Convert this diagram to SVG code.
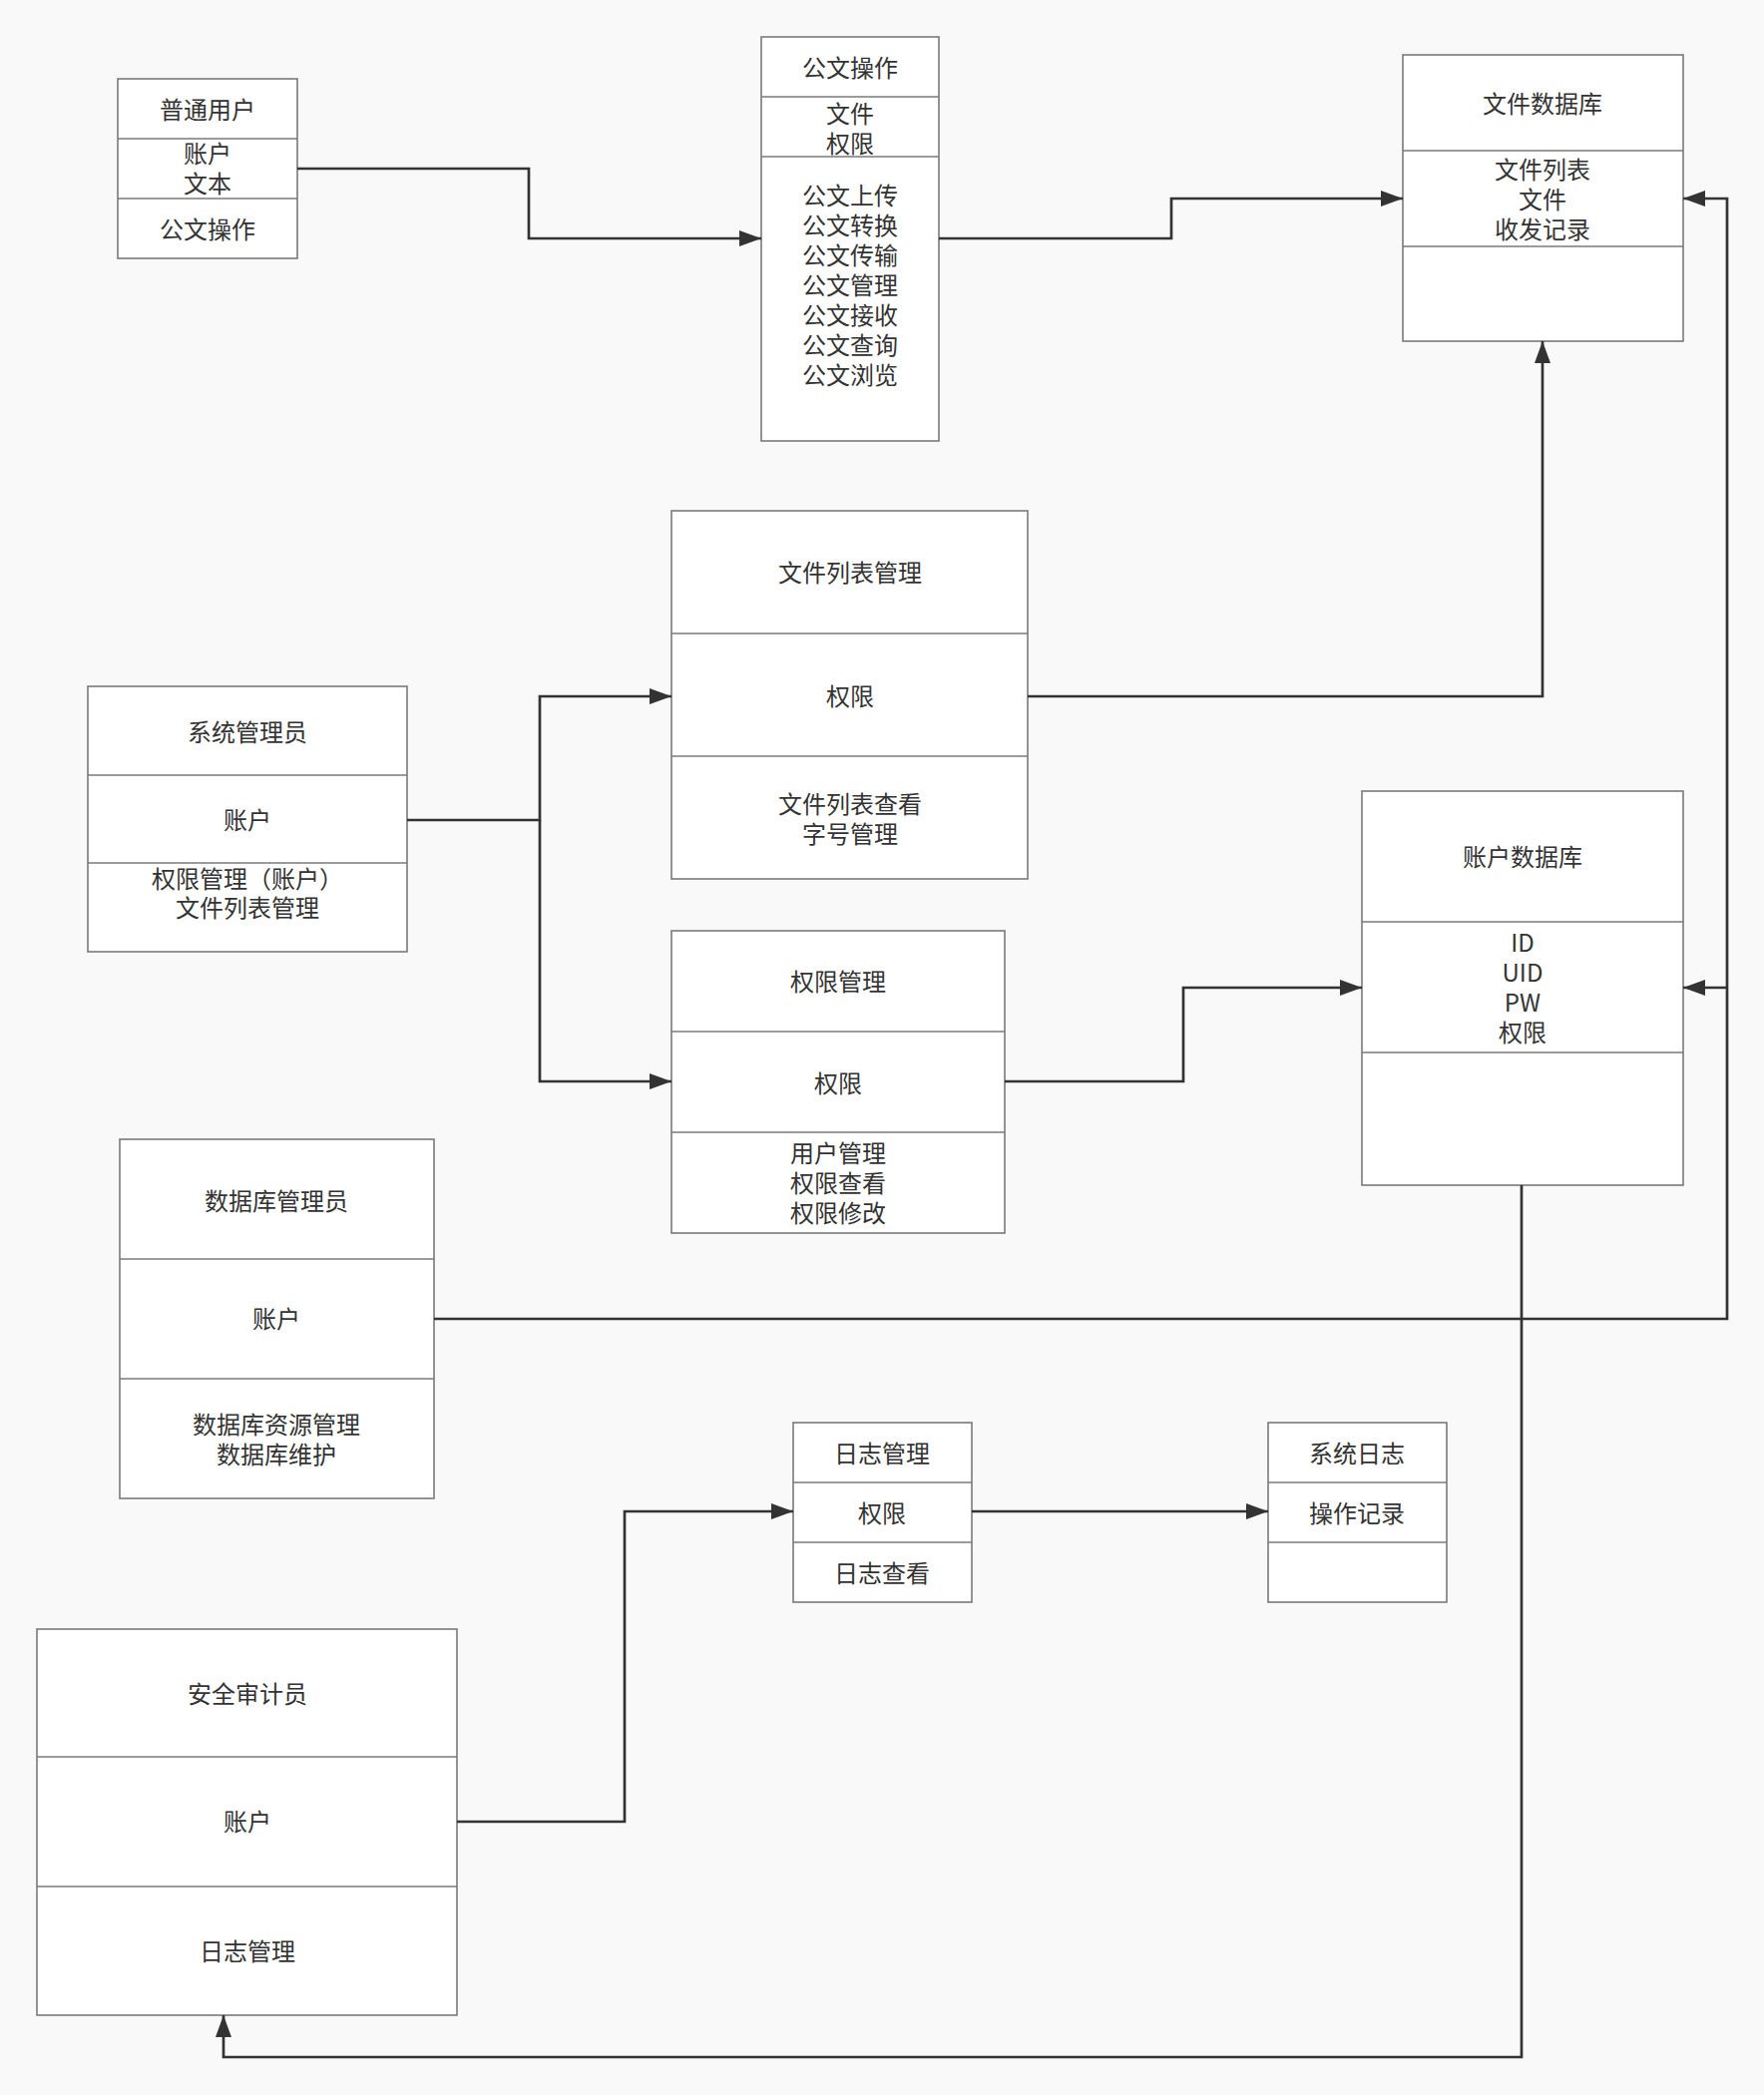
<svg xmlns="http://www.w3.org/2000/svg" width="1768" height="2100" viewBox="0 0 1768 2100">
<style>
.box{fill:#ffffff;stroke:#7a7a7a;stroke-width:1.6}
.div{stroke:#7a7a7a;stroke-width:1.6;fill:none}
text{font-family:"Noto Sans CJK SC","Noto Sans",sans-serif;font-size:24px;fill:#333333;text-anchor:middle;dominant-baseline:central}
.con{fill:none;stroke:#333333;stroke-width:2.7;marker-end:url(#arr)}
</style>
<defs>
<marker id="arr" markerUnits="userSpaceOnUse" markerWidth="22" markerHeight="16" viewBox="0 0 22 16" refX="22" refY="8" orient="auto">
<path d="M0,0 L22,8 L0,16 z" fill="#333333"/>
</marker>
</defs>
<rect x="0" y="0" width="1768" height="2100" fill="#f9f9f9"/>

<g id="putong">
<rect class="box" x="118" y="79" width="180" height="180"/>
<line class="div" x1="118" y1="139" x2="298" y2="139"/>
<line class="div" x1="118" y1="199" x2="298" y2="199"/>
<text x="208" y="108">普通用户</text>
<text x="208" y="152">账户</text>
<text x="208" y="182">文本</text>
<text x="208" y="228">公文操作</text>
</g>

<g id="gongwen">
<rect class="box" x="763" y="37" width="178" height="405"/>
<line class="div" x1="763" y1="97" x2="941" y2="97"/>
<line class="div" x1="763" y1="157" x2="941" y2="157"/>
<text x="852" y="66">公文操作</text>
<text x="852" y="112">文件</text>
<text x="852" y="142">权限</text>
<text x="852" y="194">公文上传</text>
<text x="852" y="224">公文转换</text>
<text x="852" y="254">公文传输</text>
<text x="852" y="284">公文管理</text>
<text x="852" y="314">公文接收</text>
<text x="852" y="344">公文查询</text>
<text x="852" y="374">公文浏览</text>
</g>

<g id="filedb">
<rect class="box" x="1406" y="55" width="281" height="287"/>
<line class="div" x1="1406" y1="151" x2="1687" y2="151"/>
<line class="div" x1="1406" y1="247" x2="1687" y2="247"/>
<text x="1546" y="102">文件数据库</text>
<text x="1546" y="168">文件列表</text>
<text x="1546" y="198">文件</text>
<text x="1546" y="228">收发记录</text>
</g>

<g id="filelist">
<rect class="box" x="673" y="512" width="357" height="369"/>
<line class="div" x1="673" y1="635" x2="1030" y2="635"/>
<line class="div" x1="673" y1="758" x2="1030" y2="758"/>
<text x="852" y="572">文件列表管理</text>
<text x="852" y="696">权限</text>
<text x="852" y="804">文件列表查看</text>
<text x="852" y="834">字号管理</text>
</g>

<g id="sysadmin">
<rect class="box" x="88" y="688" width="320" height="266"/>
<line class="div" x1="88" y1="777" x2="408" y2="777"/>
<line class="div" x1="88" y1="865" x2="408" y2="865"/>
<text x="248" y="732">系统管理员</text>
<text x="248" y="820">账户</text>
<text x="248" y="879">权限管理（账户）</text>
<text x="248" y="908">文件列表管理</text>
</g>

<g id="perm">
<rect class="box" x="673" y="933" width="334" height="303"/>
<line class="div" x1="673" y1="1034" x2="1007" y2="1034"/>
<line class="div" x1="673" y1="1135" x2="1007" y2="1135"/>
<text x="840" y="982">权限管理</text>
<text x="840" y="1084">权限</text>
<text x="840" y="1154">用户管理</text>
<text x="840" y="1184">权限查看</text>
<text x="840" y="1214">权限修改</text>
</g>

<g id="acctdb">
<rect class="box" x="1365" y="793" width="322" height="395"/>
<line class="div" x1="1365" y1="924" x2="1687" y2="924"/>
<line class="div" x1="1365" y1="1055" x2="1687" y2="1055"/>
<text x="1526" y="857">账户数据库</text>
<text x="1526" y="943">ID</text>
<text x="1526" y="973">UID</text>
<text x="1526" y="1003">PW</text>
<text x="1526" y="1033">权限</text>
</g>

<g id="dbadmin">
<rect class="box" x="120" y="1142" width="315" height="360"/>
<line class="div" x1="120" y1="1262" x2="435" y2="1262"/>
<line class="div" x1="120" y1="1382" x2="435" y2="1382"/>
<text x="277" y="1202">数据库管理员</text>
<text x="277" y="1320">账户</text>
<text x="277" y="1426">数据库资源管理</text>
<text x="277" y="1456">数据库维护</text>
</g>

<g id="logmgr">
<rect class="box" x="795" y="1426" width="179" height="180"/>
<line class="div" x1="795" y1="1486" x2="974" y2="1486"/>
<line class="div" x1="795" y1="1546" x2="974" y2="1546"/>
<text x="884" y="1455">日志管理</text>
<text x="884" y="1515">权限</text>
<text x="884" y="1575">日志查看</text>
</g>

<g id="syslog">
<rect class="box" x="1271" y="1426" width="179" height="180"/>
<line class="div" x1="1271" y1="1486" x2="1450" y2="1486"/>
<line class="div" x1="1271" y1="1546" x2="1450" y2="1546"/>
<text x="1360" y="1455">系统日志</text>
<text x="1360" y="1515">操作记录</text>
</g>

<g id="auditor">
<rect class="box" x="37" y="1633" width="421" height="387"/>
<line class="div" x1="37" y1="1761" x2="458" y2="1761"/>
<line class="div" x1="37" y1="1891" x2="458" y2="1891"/>
<text x="248" y="1696">安全审计员</text>
<text x="248" y="1824">账户</text>
<text x="248" y="1954">日志管理</text>
</g>

<g id="connectors">
<path class="con" d="M298,169 H530 V239 H763"/>
<path class="con" d="M941,239 H1174 V199 H1406"/>
<path class="con" d="M1030,698 H1546 V342"/>
<path class="con" d="M408,822 H541 V698 H673"/>
<path class="con" d="M541,822 V1084 H673"/>
<path class="con" d="M1007,1084 H1186 V990 H1365"/>
<path class="con" d="M435,1322 H1731 V199 H1687"/>
<path class="con" d="M1731,990 H1687"/>
<path class="con" d="M1525,1188 V2062 H224 V2020"/>
<path class="con" d="M458,1826 H626 V1515 H795"/>
<path class="con" d="M974,1515 H1271"/>
</g>
</svg>
